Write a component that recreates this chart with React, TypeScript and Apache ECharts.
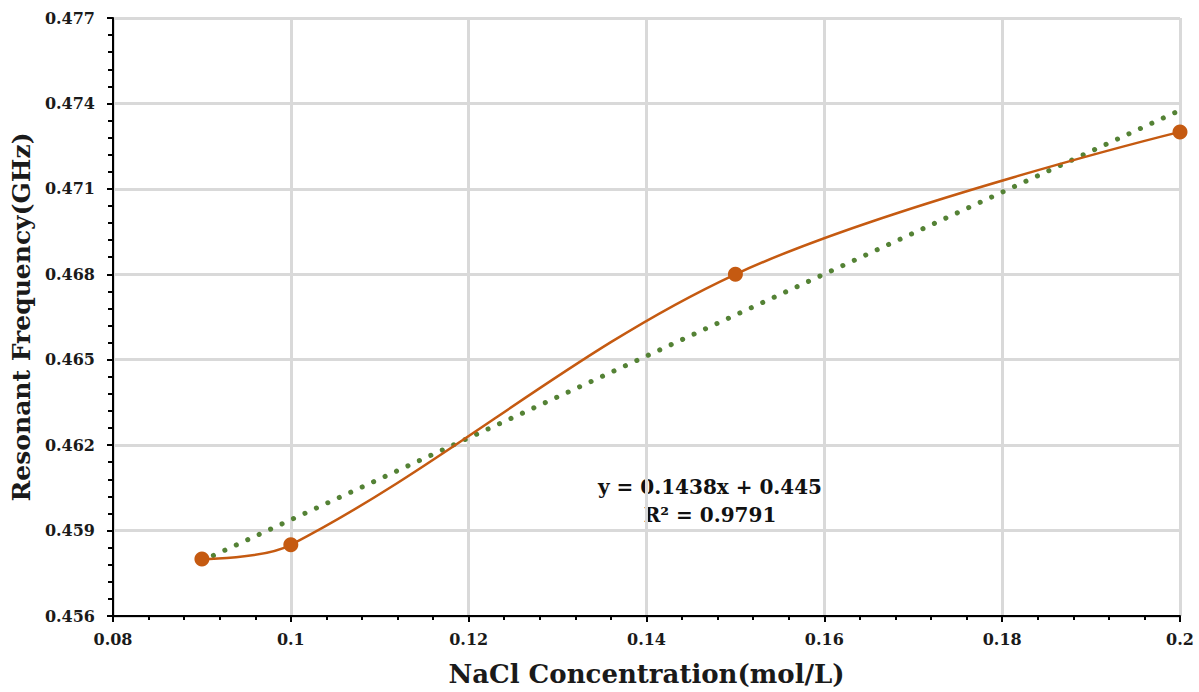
import React, { useEffect, useRef } from "react";
import * as echarts from "echarts";

const concentration = [0.09, 0.1, 0.15, 0.2];
const frequency = [0.458, 0.4585, 0.468, 0.473];
const trendX = [0.09, 0.2];
const trendY = [0.45794, 0.47376];
const equationLines = ["y = 0.1438x + 0.445", "R² = 0.9791"];

const FONT = "'DejaVu Serif', serif";

export default function App() {
  const ref = useRef<HTMLDivElement>(null);
  useEffect(() => {
    if (!ref.current) return;
    const chart = echarts.init(ref.current, null, { renderer: "svg" });
    chart.setOption({
      animation: false,
      backgroundColor: "#ffffff",
      grid: {
        left: 113,
        right: 19,
        top: 18,
        bottom: 76,
        containLabel: false,
        outerBoundsMode: "none",
      },
      xAxis: {
        type: "value",
        min: 0.08,
        max: 0.2,
        interval: 0.02,
        name: "NaCl Concentration(mol/L)",
        nameLocation: "middle",
        nameGap: 45,
        nameTextStyle: { fontFamily: FONT, fontWeight: "bold", fontSize: 26, color: "#1a1a1a" },
        axisLine: { show: true, onZero: false, lineStyle: { color: "#000", width: 2 } },
        axisTick: { show: true, length: 6, lineStyle: { color: "#000", width: 2 } },
        minorTick: { show: true, splitNumber: 5, length: 4, lineStyle: { color: "#000", width: 2 } },
        axisLabel: {
          fontFamily: FONT,
          fontWeight: "bold",
          fontSize: 16,
          color: "#1a1a1a",
          margin: 15,
          formatter: (v: number) => String(parseFloat(v.toFixed(2))),
        },
        splitLine: { show: true, lineStyle: { color: "#d9d9d9", width: 3 } },
      },
      yAxis: {
        type: "value",
        min: 0.456,
        max: 0.477,
        interval: 0.003,
        name: "Resonant Frequency(GHz)",
        nameLocation: "middle",
        nameGap: 78,
        nameTextStyle: { fontFamily: FONT, fontWeight: "bold", fontSize: 25, color: "#1a1a1a" },
        axisLine: { show: true, lineStyle: { color: "#000", width: 2 } },
        axisTick: { show: true, length: 6, lineStyle: { color: "#000", width: 2 } },
        minorTick: { show: true, splitNumber: 5, length: 5, lineStyle: { color: "#000", width: 2 } },
        axisLabel: {
          fontFamily: FONT,
          fontWeight: "bold",
          fontSize: 16,
          color: "#1a1a1a",
          margin: 18,
          formatter: (v: number) => v.toFixed(3),
        },
        splitLine: { show: true, lineStyle: { color: "#d9d9d9", width: 3 } },
      },
      series: [
        {
          type: "line",
          data: trendX.map((x, i) => [x, trendY[i]]),
          showSymbol: false,
          symbol: "none",
          lineStyle: { color: "#548235", width: 5, type: [0.1, 12.5], cap: "round" },
          z: 3,
        },
        {
          type: "line",
          data: concentration.map((x, i) => [x, frequency[i]]),
          smooth: 0.35,
          symbol: "circle",
          symbolSize: 15,
          itemStyle: { color: "#c55a11" },
          lineStyle: { color: "#c55a11", width: 2.5 },
          z: 4,
        },
      ],
      graphic: [
        {
          type: "text",
          x: 710,
          y: 473,
          style: {
            text: equationLines.join("\n"),
            fontFamily: FONT,
            fontWeight: "bold",
            fontSize: 20,
            lineHeight: 28,
            fill: "#111",
            align: "center",
            verticalAlign: "top",
          },
        },
      ],
    });
    return () => chart.dispose();
  }, []);
  return (
    <div
      ref={ref}
      style={{ position: "fixed", left: 0, top: 0, width: 1199, height: 692, background: "#fff" }}
    />
  );
}
